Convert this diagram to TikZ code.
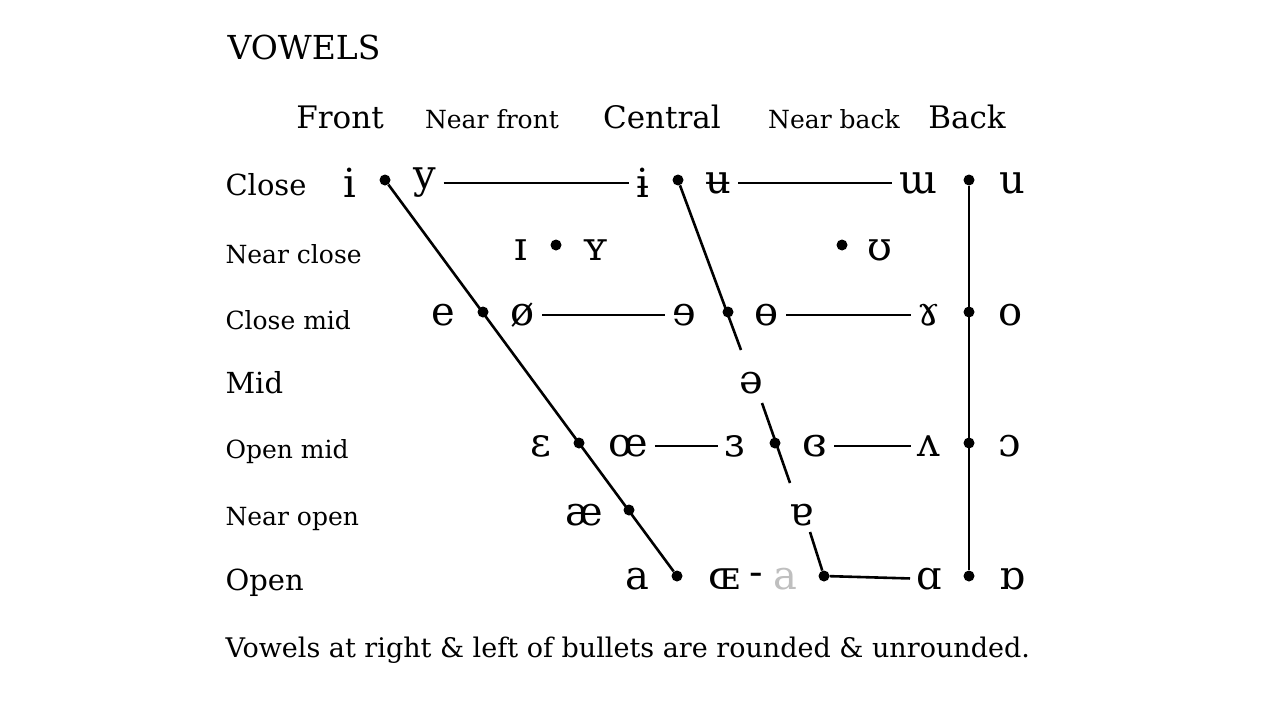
\documentclass[tikz,border=0pt]{standalone}
\usepackage{fontspec}
\setmainfont{DejaVu Serif}
\begin{document}
\begin{tikzpicture}[x=1pt,y=-1pt,
  lab/.style={anchor=west,font=\fontsize{29}{30}\selectfont},
  slab/.style={anchor=west,font=\fontsize{25}{26}\selectfont},
  hd/.style={font=\fontsize{31}{32}\selectfont},
  shd/.style={font=\fontsize{25}{26}\selectfont},
  v/.style={font=\fontsize{40}{40}\selectfont,inner sep=0pt,yshift=-3pt},
  ln/.style={line width=2.6pt},
  hl/.style={ln,shorten <=7pt,shorten >=7pt},
  dot/.style={circle,fill=black,inner sep=0pt,minimum size=11pt}]
\useasboundingbox (0,0) rectangle (1280,720);
\node[anchor=west,font=\fontsize{33}{34}\selectfont] (title) at (224,47) {VOWELS};
\node[hd] (hf) at (340,117) {Front};
\node[shd] (hnf) at (492,119) {Near front};
\node[hd] (hc) at (662,117) {Central};
\node[shd] (hnb) at (834,119) {Near back};
\node[hd] (hb) at (967,117) {Back};
\node[lab] (r1) at (222,185) {Close};
\node[slab] (r2) at (222,254) {Near close};
\node[slab] (r3) at (222,320) {Close mid};
\node[lab] (r4) at (222,383) {Mid};
\node[slab] (r5) at (222,452) {Open mid};
\node[slab] (r6) at (222,519) {Near open};
\node[lab] (r7) at (222,583) {Open};
% bullets
\foreach \n/\x/\y in {b1/385/180,b2/678/180,b3/969/180,b4/556/245,b5/842/245,
  b6/483/312,b7/728/312,b8/969/312,b9/579/443,b10/775/443,b11/969/443,
  b12/629/510,b13/677/576,b14/824/576,b15/969/576}
  \node[dot] (\n) at (\x,\y) {};
% vowels
\node[v] (i) at (350,180) {i};  \node[v] (y) at (425,180) {y};
\node[v] (ib) at (643,180) {ɨ}; \node[v] (ub) at (718,180) {ʉ};
\node[v] (um) at (918,180) {ɯ}; \node[v] (u) at (1012,180) {u};
\node[v] (I) at (521,247) {ɪ}; \node[v] (Y) at (596,247) {ʏ}; \node[v] (U) at (880,247) {ʊ};
\node[v] (e) at (443,312) {e}; \node[v] (oe) at (523,312) {ø};
\node[v] (er) at (684,312) {ɘ}; \node[v] (ob) at (767,312) {ɵ};
\node[v] (ga) at (929,312) {ɤ}; \node[v] (o) at (1011,312) {o};
\node[v] (sch) at (751,380) {ə};
\node[v] (E) at (541,443) {ɛ}; \node[v] (OE) at (628,443) {œ};
\node[v] (3) at (735,443) {ɜ}; \node[v] (3b) at (815,443) {ɞ};
\node[v] (V) at (929,443) {ʌ}; \node[v] (O) at (1010,443) {ɔ};
\node[v] (ae) at (584,512) {æ}; \node[v] (ta) at (801,512) {ɐ};
\node[v] (a) at (637,576) {a}; \node[v] (OE2) at (724,576) {ɶ};
\node[v] (hy) at (756,576) {-}; \node[v,text=black!25] (ag) at (785,576) {a};
\node[v] (A) at (929,576) {ɑ}; \node[v] (Ab) at (1012,576) {ɒ};
% lines
\draw[ln] (b1) -- (b13);
\coordinate (g1) at (741,350); \coordinate (g2) at (762,403);
\coordinate (g3) at (790,483); \coordinate (g4) at (810,532);
\draw[ln] (b2) -- (g1); \draw[ln] (g2) -- (g3); \draw[ln] (g4) -- (b14);
\draw[ln,shorten >=6pt] (b14) -- (A);
\draw[ln] (b3) -- (b15);
\draw[hl] (y) -- (ib); \draw[hl] (ub) -- (um);
\draw[hl] (oe) -- (er); \draw[hl] (ob) -- (ga);
\draw[hl] (OE) -- (3); \draw[hl] (3b) -- (V);
\node[anchor=west,font=\fontsize{27}{28}\selectfont] (note) at (222,650) {Vowels at right \& left of bullets are rounded \& unrounded.};
\end{tikzpicture}
\end{document}
